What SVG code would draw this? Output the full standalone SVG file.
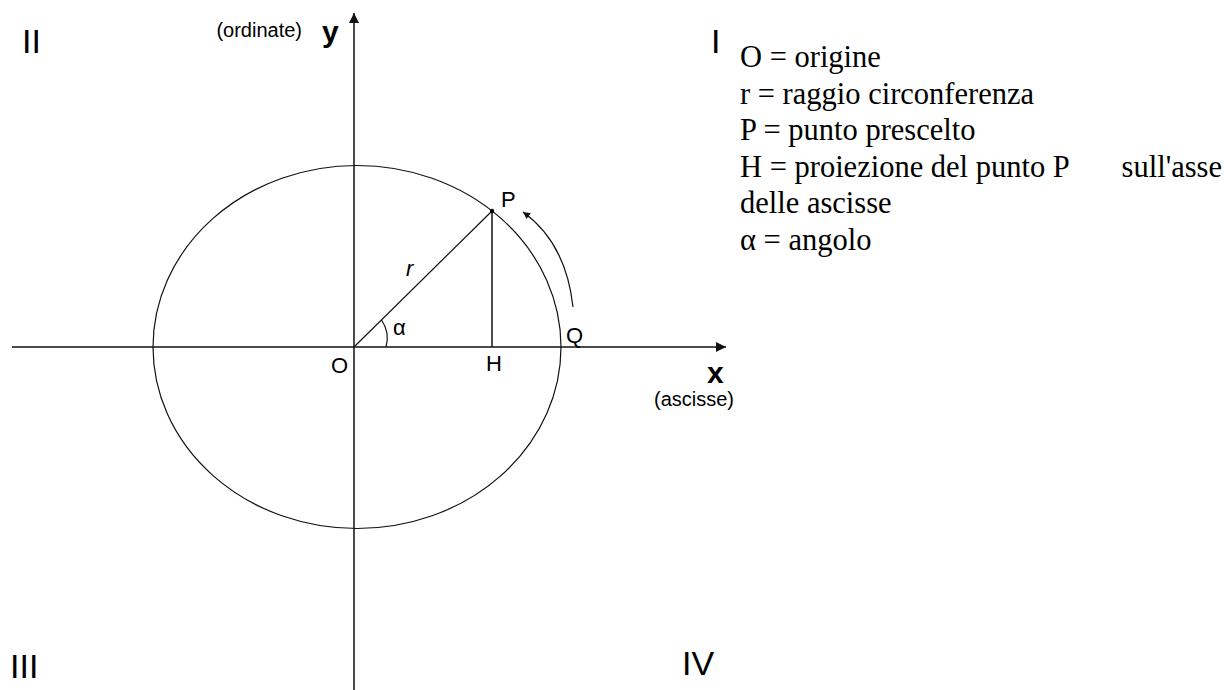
<svg xmlns="http://www.w3.org/2000/svg" width="1224" height="690" viewBox="0 0 1224 690">
<defs>
<style>
.ax{stroke:#111;stroke-width:1.5;fill:none}
.ln{stroke:#111;stroke-width:1.2;fill:none}
.sans{font-family:"Liberation Sans",Arial,sans-serif;fill:#000}
.big{font-size:34px}
.lbl{font-size:22px}
.axl{font-size:30px;font-weight:bold}
.note{font-size:20px}
.leg{font-family:"Liberation Serif","Times New Roman",serif;font-size:30.5px;fill:#000}
</style>
<marker id="ah" viewBox="0 0 10 10" refX="10" refY="5" markerWidth="10" markerHeight="10" markerUnits="userSpaceOnUse" orient="auto">
<path d="M0,0 L10,5 L0,10 z" fill="#111"/>
</marker>
<marker id="ahs" viewBox="0 0 10 10" refX="10" refY="5" markerWidth="7" markerHeight="7" markerUnits="userSpaceOnUse" orient="auto">
<path d="M0,0 L10,5 L0,10 z" fill="#111"/>
</marker>
</defs>
<rect width="1224" height="690" fill="#fff"/>
<g id="connectors">
<line class="ax" x1="12" y1="347" x2="726" y2="347" marker-end="url(#ah)"/>
<line class="ax" x1="354" y1="690" x2="354" y2="13" marker-end="url(#ah)"/>
<ellipse id="circle" class="ln" cx="357" cy="347" rx="204" ry="181.5"/>
<line class="ln" x1="354" y1="347" x2="492" y2="211"/>
<line class="ax" x1="492" y1="211" x2="492" y2="347"/>
<path class="ln" d="M386,347 A32,32 0 0 0 381.5,320"/>
<path class="ln" d="M573,307 Q566,243 523,212" marker-end="url(#ahs)"/>
<circle cx="492" cy="211" r="2.2" fill="#000"/>
</g>
<g id="quadrants" class="sans big">
<text x="22" y="53">II</text>
<text x="711" y="53">I</text>
<text x="10" y="678">III</text>
<text x="682" y="675">IV</text>
</g>
<g id="axis-labels" class="sans">
<text class="axl" x="322" y="42">y</text>
<text class="note" x="302" y="37" text-anchor="end">(ordinate)</text>
<text class="axl" x="707" y="383">x</text>
<text class="note" x="734" y="406" text-anchor="end">(ascisse)</text>
</g>
<g id="points" class="sans lbl">
<text x="331" y="373">O</text>
<text x="486" y="371">H</text>
<text x="501" y="207">P</text>
<text x="566" y="343">Q</text>
<text x="393" y="335">α</text>
<text x="406" y="276" font-style="italic">r</text>
</g>
<g id="legend" class="leg">
<text x="740" y="67">O = origine</text>
<text x="740" y="104">r = raggio circonferenza</text>
<text x="740" y="140">P = punto prescelto</text>
<text x="740" y="177">H = proiezione del punto P<tspan x="1222" text-anchor="end">sull'asse</tspan></text>
<text x="740" y="213">delle ascisse</text>
<text x="740" y="250">α = angolo</text>
</g>
</svg>
